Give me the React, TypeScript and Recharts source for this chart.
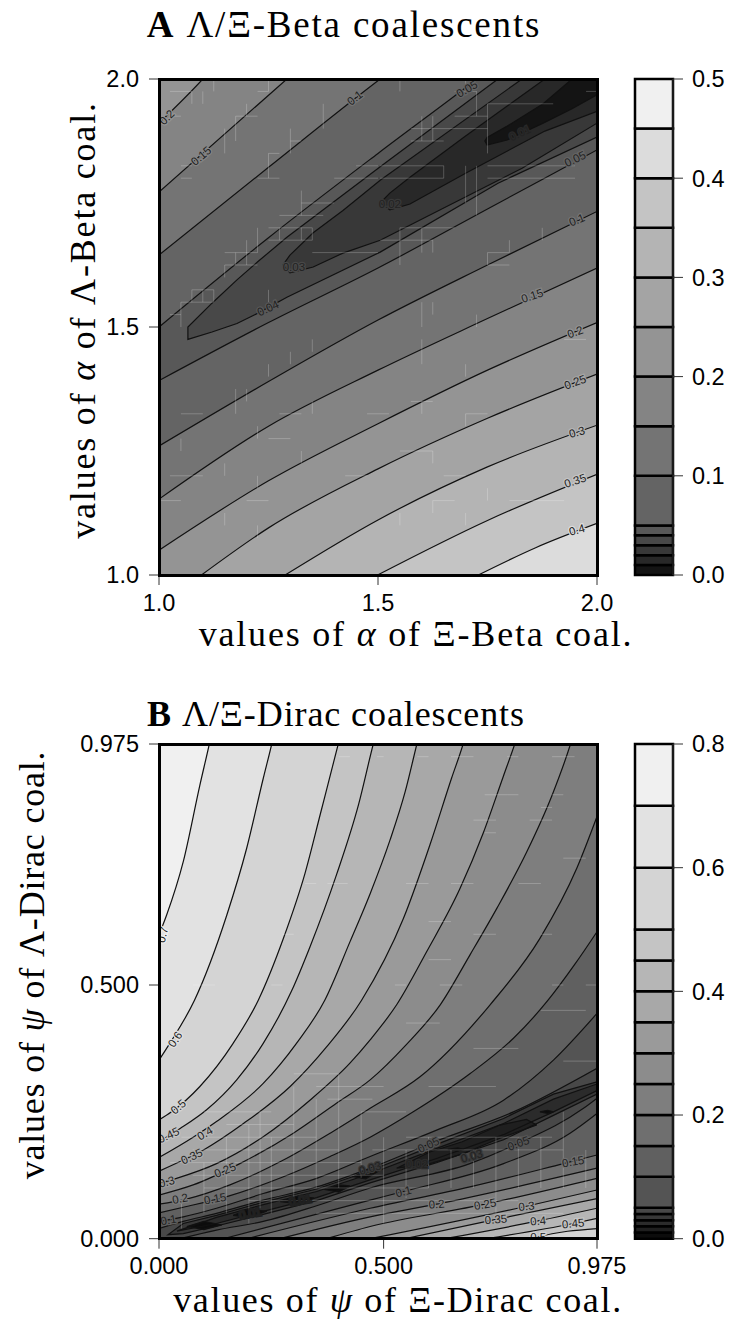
import { Area, Bar, ComposedChart, Line, Scatter, XAxis, YAxis } from "recharts";

type Pt = [number, number];

// ---- panel A: contour lines, [x, y]
// lines that run out of the frame get a last point past the edge, the clip cuts them
const A_TOP: Pt[] = [[1, 2], [2, 2]];
const A_020U: Pt[] = [[1, 1.911], [1.1, 2], [1.15, 2.05], [2, 2.05]];
const A_015U: Pt[] = [[1, 1.772], [1.292, 2], [1.34, 2.037], [2, 2.037]];
const A_010U: Pt[] = [[1, 1.645], [1.25, 1.822], [1.505, 2], [1.55, 2.03], [2, 2.03]];
const A_005U: Pt[] = [[1, 1.5], [1.25, 1.68], [1.5, 1.85], [1.726, 2], [1.77, 2.03], [2, 2.03]];
const A_005L: Pt[] = [[1, 1.392], [1.25, 1.509], [1.5, 1.619], [1.75, 1.738], [2, 1.857]];
const A_010L: Pt[] = [[1, 1.26], [1.25, 1.39], [1.5, 1.514], [1.75, 1.625], [2, 1.733]];
const A_015L: Pt[] = [[1, 1.153], [1.25, 1.3], [1.5, 1.413], [1.75, 1.517], [2, 1.619]];
const A_020L: Pt[] = [[1, 1.05], [1.25, 1.19], [1.5, 1.305], [1.75, 1.413], [2, 1.509]];
const A_025L: Pt[] = [[1.097, 1], [1.25, 1.095], [1.5, 1.214], [1.75, 1.316], [2, 1.405]];
const A_030L: Pt[] = [[1.288, 1], [1.5, 1.111], [1.75, 1.218], [2, 1.302]];
const A_035L: Pt[] = [[1.499, 1], [1.75, 1.11], [2, 1.203]];
const A_040L: Pt[] = [[1.729, 1], [1.86, 1.055], [2, 1.104]];

// closed lenses round the ridge: x, lower edge, upper edge
const A_LENS_04 = {
  x: [1.066, 1.121, 1.178, 1.226, 1.292, 1.505, 1.774, 2],
  lo: [1.475, 1.49, 1.507, 1.528, 1.56, 1.651, 1.79, 1.883],
  hi: [1.5, 1.548, 1.595, 1.632, 1.681, 1.823, 2, 2],
};
const A_LENS_03 = {
  x: [1.283, 1.299, 1.352, 1.42, 1.505, 1.829, 2],
  lo: [1.625, 1.609, 1.621, 1.649, 1.675, 1.82, 1.911],
  hi: [1.625, 1.645, 1.69, 1.735, 1.796, 2, 2],
};
const A_LENS_02 = {
  x: [1.505, 1.527, 1.573, 1.7, 1.881, 2],
  lo: [1.75, 1.736, 1.748, 1.81, 1.895, 1.935],
  hi: [1.75, 1.77, 1.802, 1.885, 2, 2],
};
const A_LENS_01 = {
  x: [1.744, 1.749, 1.795, 1.877, 1.943, 2],
  lo: [1.875, 1.867, 1.877, 1.911, 1.94, 1.968],
  hi: [1.875, 1.882, 1.905, 1.95, 2, 2],
};

const A_LEVELS = [0, 0.01, 0.02, 0.03, 0.04, 0.05, 0.1, 0.15, 0.2, 0.25, 0.3, 0.35, 0.4, 0.45, 0.5];
const A_TICKS_X = [1, 1.5, 2];
const A_TICKS_BAR = [0, 0.1, 0.2, 0.3, 0.4, 0.5];

const A_LABEL_TEXT = ["0.2", "0.15", "0.1", "0.05", "0.04", "0.03", "0.02", "0.01", "0.05", "0.1", "0.15", "0.2", "0.25", "0.3", "0.35", "0.4"];
const A_LABEL_X = [1.018, 1.096, 1.447, 1.703, 1.249, 1.308, 1.527, 1.824, 1.95, 1.954, 1.852, 1.95, 1.95, 1.954, 1.95, 1.954];
const A_LABEL_Y = [1.923, 1.845, 1.962, 1.98, 1.538, 1.621, 1.748, 1.891, 1.839, 1.716, 1.563, 1.49, 1.389, 1.288, 1.19, 1.091];

// pale seams of the filled grid cells: [x, y from, y to] and [y, x from, x to]
const A_SEAMS_V: number[][] = [
  [1.125, 2, 1.975], [1.25, 2, 1.975], [1.075, 1.975, 1.95], [1.1, 1.975, 1.95], [1.2, 1.95, 1.925], [1.175, 1.925, 1.875],
  [1.15, 1.9, 1.85], [1.25, 1.85, 1.8], [1.3, 1.9, 1.85], [1.375, 1.95, 1.9], [1.325, 1.775, 1.725], [1.275, 1.7, 1.675],
  [1.225, 1.7, 1.65], [1.2, 1.675, 1.625], [1.175, 1.65, 1.625], [1.15, 1.625, 1.6], [1.125, 1.575, 1.55], [1.1, 1.575, 1.55],
  [1.075, 1.575, 1.55], [1.05, 1.55, 1.5], [1.25, 1.575, 1.55], [1.325, 1.7, 1.675], [1.35, 1.7, 1.675],
  [1.55, 2, 1.975], [1.7, 2, 1.975], [1.725, 1.975, 1.925], [1.75, 1.95, 1.85], [1.6, 1.925, 1.875], [1.625, 1.925, 1.875],
  [1.65, 1.825, 1.8], [1.7, 1.825, 1.75], [1.725, 1.825, 1.725], [1.6, 1.7, 1.65], [1.625, 1.675, 1.65], [1.55, 1.7, 1.625],
  [1.8, 1.675, 1.65], [1.75, 1.65, 1.625], [1.875, 1.7, 1.675], [1.625, 1.55, 1.525], [1.6, 1.55, 1.5], [1.725, 1.525, 1.5],
  [1.25, 1.425, 1.4], [1.3, 1.45, 1.425], [1.35, 1.475, 1.45], [1.6, 1.475, 1.425], [1.7, 1.425, 1.4], [1.175, 1.375, 1.325],
  [1.2, 1.375, 1.35], [1.225, 1.3, 1.275], [1.35, 1.35, 1.325], [1.6, 1.35, 1.325], [1.7, 1.325, 1.3], [1.225, 1.2, 1.175],
  [1.15, 1.225, 1.2], [1.05, 1.275, 1.25], [1.325, 1.25, 1.225], [1.625, 1.25, 1.225], [1.625, 1.15, 1.125], [1.55, 1.125, 1.1],
  [1.225, 1.1, 1.075], [1.15, 1.125, 1.1], [1.7, 1.125, 1.1], [1.75, 1.175, 1.15],
];
const A_SEAMS_H: number[][] = [
  [1.975, 1.025, 1.075], [1.925, 1.025, 1.05], [1.975, 1.225, 1.25], [1.925, 1.175, 1.225], [1.875, 1.3, 1.325], [1.825, 1.05, 1.075],
  [1.8, 1.05, 1.075], [1.85, 1.25, 1.275], [1.8, 1.225, 1.275], [1.75, 1.325, 1.4], [1.825, 1.45, 1.5], [1.8, 1.4, 1.5],
  [1.725, 1.275, 1.375], [1.7, 1.25, 1.35], [1.675, 1.25, 1.35], [1.65, 1.15, 1.225], [1.625, 1.15, 1.225], [1.575, 1.075, 1.125],
  [1.55, 1.05, 1.125], [1.525, 1.025, 1.05], [1.65, 1.35, 1.5],
  [1.975, 1.675, 1.725], [1.95, 1.75, 1.9], [1.925, 1.675, 1.75], [1.9, 1.575, 1.75], [1.875, 1.575, 1.65], [1.825, 1.505, 1.65],
  [1.825, 1.75, 1.95], [1.8, 1.75, 1.95], [1.8, 1.505, 1.65], [1.7, 1.55, 1.675], [1.675, 1.505, 1.625], [1.65, 1.75, 1.8],
  [1.625, 1.75, 1.8], [1.975, 1.975, 2],
  [1.325, 1.05, 1.1], [1.325, 1.275, 1.325], [1.325, 1.475, 1.525], [1.325, 1.7, 1.75], [1.275, 1.25, 1.3], [1.25, 1.55, 1.625],
  [1.2, 1.025, 1.1], [1.2, 1.425, 1.475], [1.2, 1.65, 1.7], [1.15, 1, 1.05], [1.15, 1.2, 1.25], [1.15, 1.625, 1.675],
  [1.15, 1.8, 1.925], [1.35, 1.575, 1.625], [1.475, 1.925, 1.975],
];

// ---- panel B
const B_TOP: Pt[] = [[0, 0.975], [0.975, 0.975]];
const B_070: Pt[] = [[0, 0.599], [0.017, 0.638], [0.054, 0.743], [0.091, 0.894], [0.112, 0.975], [0.13, 1.05], [0.975, 1.05]];
const B_060: Pt[] = [[0, 0.352], [0.024, 0.385], [0.079, 0.47], [0.151, 0.638], [0.195, 0.769], [0.232, 0.907], [0.251, 0.975], [0.27, 1.05], [0.975, 1.05]];
const B_050: Pt[] = [[0, 0.234], [0.028, 0.25], [0.091, 0.3], [0.165, 0.385], [0.221, 0.47], [0.277, 0.592], [0.325, 0.72], [0.36, 0.84], [0.399, 0.975], [0.42, 1.05], [0.975, 1.05]];
const B_045: Pt[] = [[0, 0.191], [0.047, 0.217], [0.106, 0.254], [0.173, 0.313], [0.232, 0.385], [0.295, 0.488], [0.336, 0.575], [0.395, 0.717], [0.444, 0.855], [0.477, 0.975], [0.5, 1.05], [0.975, 1.05]];
const B_040: Pt[] = [[0, 0.16], [0.076, 0.2], [0.128, 0.231], [0.232, 0.306], [0.306, 0.385], [0.369, 0.47], [0.425, 0.585], [0.47, 0.68], [0.514, 0.785], [0.548, 0.881], [0.574, 0.975], [0.595, 1.05], [0.975, 1.05]];
const B_035: Pt[] = [[0, 0.133], [0.054, 0.155], [0.099, 0.175], [0.188, 0.227], [0.292, 0.3], [0.373, 0.378], [0.451, 0.47], [0.544, 0.631], [0.603, 0.776], [0.651, 0.907], [0.677, 0.975], [0.7, 1.05], [0.975, 1.05]];
const B_030: Pt[] = [[0, 0.109], [0.039, 0.119], [0.128, 0.148], [0.232, 0.201], [0.336, 0.273], [0.425, 0.346], [0.47, 0.392], [0.529, 0.461], [0.596, 0.566], [0.67, 0.69], [0.722, 0.8], [0.766, 0.91], [0.792, 0.975], [0.82, 1.05], [0.975, 1.05]];
const B_025: Pt[] = [[0, 0.086], [0.076, 0.106], [0.18, 0.148], [0.299, 0.208], [0.395, 0.267], [0.47, 0.313], [0.55, 0.382], [0.626, 0.461], [0.692, 0.559], [0.752, 0.651], [0.819, 0.763], [0.875, 0.874], [0.916, 0.975], [0.94, 1.05], [0.975, 1.05]];
const B_020: Pt[] = [[0, 0.068], [0.061, 0.078], [0.158, 0.106], [0.277, 0.155], [0.381, 0.208], [0.47, 0.257], [0.581, 0.319], [0.737, 0.461], [0.848, 0.592], [0.93, 0.73], [0.975, 0.832]];
const B_015: Pt[] = [[0, 0.051], [0.054, 0.062], [0.151, 0.083], [0.277, 0.122], [0.381, 0.162], [0.47, 0.2], [0.566, 0.25], [0.692, 0.325], [0.789, 0.395], [0.866, 0.47], [0.925, 0.54], [0.975, 0.605]];
const B_010: Pt[] = [[0, 0.034], [0.054, 0.043], [0.128, 0.06], [0.232, 0.089], [0.351, 0.119], [0.47, 0.162], [0.618, 0.214], [0.767, 0.273], [0.878, 0.352], [0.975, 0.444]];
const B_005U: Pt[] = [[0, 0.02], [0.054, 0.034], [0.128, 0.05], [0.232, 0.076], [0.351, 0.102], [0.47, 0.139], [0.622, 0.194], [0.789, 0.25], [0.975, 0.336]];
const B_005L: Pt[] = [[0.047, 0], [0.128, 0.017], [0.232, 0.034], [0.351, 0.065], [0.47, 0.1], [0.692, 0.148], [0.8, 0.188], [0.945, 0.257], [0.975, 0.277]];
const B_010L: Pt[] = [[0.143, 0], [0.47, 0.076], [0.544, 0.093], [0.767, 0.148], [0.915, 0.208], [0.975, 0.247]];
const B_015L: Pt[] = [[0.195, 0], [0.47, 0.06], [0.692, 0.102], [0.9, 0.148], [0.975, 0.165]];
const B_020L: Pt[] = [[0.269, 0], [0.47, 0.043], [0.618, 0.068], [0.975, 0.139]];
const B_025L: Pt[] = [[0.373, 0], [0.47, 0.024], [0.726, 0.068], [0.975, 0.119]];
const B_030L: Pt[] = [[0.47, 0], [0.818, 0.064], [0.975, 0.096]];
const B_035L: Pt[] = [[0.547, 0], [0.75, 0.038], [0.975, 0.079]];
const B_040L: Pt[] = [[0.636, 0], [0.844, 0.035], [0.975, 0.06]];
const B_045L: Pt[] = [[0.729, 0], [0.922, 0.03], [0.975, 0.04]];
const B_050L: Pt[] = [[0.833, 0], [0.844, 0.003], [0.975, 0.02]];

const B_LENS_04 = {
  x: [0.02, 0.054, 0.128, 0.232, 0.351, 0.47, 0.618, 0.767, 0.878, 0.975],
  lo: [0.008, 0.01, 0.025, 0.048, 0.075, 0.11, 0.15, 0.195, 0.243, 0.285],
  hi: [0.008, 0.03, 0.046, 0.072, 0.098, 0.134, 0.186, 0.237, 0.285, 0.309],
};
const B_LENS_03 = {
  x: [0.04, 0.128, 0.232, 0.351, 0.47, 0.618, 0.767, 0.878, 0.975],
  lo: [0.015, 0.03, 0.054, 0.081, 0.116, 0.158, 0.205, 0.25, 0.292],
  hi: [0.015, 0.042, 0.067, 0.093, 0.128, 0.178, 0.227, 0.275, 0.305],
};
const B_LENS_02 = {
  x: [0.529, 0.603, 0.675, 0.759, 0.818, 0.841],
  lo: [0.139, 0.148, 0.167, 0.198, 0.217, 0.224],
  hi: [0.139, 0.171, 0.191, 0.224, 0.235, 0.224],
};
// little dark islands along the ridge
const B_BLOBS = [
  { x: [0.062, 0.1, 0.14], lo: [0.024, 0.018, 0.027], hi: [0.024, 0.034, 0.027] },
  { x: [0.165, 0.2, 0.24], lo: [0.046, 0.042, 0.054], hi: [0.046, 0.058, 0.054] },
  { x: [0.27, 0.31, 0.345], lo: [0.073, 0.069, 0.08], hi: [0.073, 0.084, 0.08] },
  { x: [0.37, 0.4, 0.425], lo: [0.097, 0.092, 0.104], hi: [0.097, 0.106, 0.104] },
  { x: [0.433, 0.46, 0.49], lo: [0.122, 0.118, 0.134], hi: [0.122, 0.135, 0.134] },
  { x: [0.643, 0.665, 0.678], lo: [0.176, 0.173, 0.176], hi: [0.176, 0.179, 0.176] },
  { x: [0.848, 0.865, 0.878], lo: [0.25, 0.247, 0.25], hi: [0.25, 0.253, 0.25] },
];

const B_LEVELS = [0, 0.01, 0.02, 0.03, 0.04, 0.05, 0.1, 0.15, 0.2, 0.25, 0.3, 0.35, 0.4, 0.45, 0.5, 0.6, 0.7, 0.8];
const B_TICKS_X = [0, 0.5, 0.975];
const B_TICKS_BAR = [0, 0.2, 0.4, 0.6, 0.8];

const B_LABEL_TEXT = ["0.7", "0.6", "0.5", "0.45", "0.4", "0.35", "0.3", "0.25", "0.2", "0.15", "0.1", "0.01", "0.01", "0.03", "0.02", "0.05", "0.03", "0.05", "0.1", "0.15", "0.2", "0.25", "0.3", "0.35", "0.4", "0.45", "0.5"];
const B_LABEL_X = [0.008, 0.036, 0.043, 0.021, 0.102, 0.073, 0.017, 0.147, 0.047, 0.125, 0.021, 0.203, 0.314, 0.47, 0.574, 0.6, 0.696, 0.8, 0.544, 0.922, 0.618, 0.726, 0.818, 0.75, 0.844, 0.922, 0.844];
const B_LABEL_Y = [0.599, 0.393, 0.26, 0.204, 0.208, 0.162, 0.112, 0.135, 0.079, 0.079, 0.037, 0.05, 0.076, 0.139, 0.148, 0.185, 0.163, 0.188, 0.093, 0.152, 0.068, 0.068, 0.064, 0.038, 0.035, 0.03, 0.003];

const B_SEAMS_V: number[][] = [
  [0.15, 0.05, 0.2], [0.2, 0.03, 0.225], [0.225, 0.06, 0.25], [0.25, 0.05, 0.2], [0.3, 0.075, 0.3], [0.35, 0.1, 0.275],
  [0.4, 0.1, 0.325], [0.45, 0.12, 0.25], [0.5, 0.03, 0.2], [0.55, 0.08, 0.175], [0.6, 0.1, 0.2], [0.65, 0.1, 0.175],
  [0.7, 0.1, 0.175], [0.75, 0.05, 0.2], [0.8, 0.1, 0.2], [0.85, 0.1, 0.2], [0.9, 0.1, 0.25], [0.95, 0.1, 0.175],
  [0.1, 0.05, 0.15], [0.05, 0.02, 0.075],
];
const B_SEAMS_H: number[][] = [
  [0.25, 0.1, 0.25], [0.225, 0.15, 0.3], [0.2, 0.05, 0.35], [0.175, 0.075, 0.4], [0.15, 0.025, 0.45], [0.125, 0.075, 0.5],
  [0.1, 0.1, 0.6], [0.075, 0.2, 0.8], [0.05, 0.35, 0.9], [0.325, 0.3, 0.4], [0.3, 0.35, 0.5], [0.275, 0.375, 0.475],
  [0.25, 0.45, 0.55], [0.2, 0.55, 0.875], [0.175, 0.475, 0.9], [0.3, 0.6, 0.75], [0.375, 0.7, 0.8], [0.35, 0.9, 0.975],
  [0.45, 0.85, 0.95], [0.425, 0.55, 0.625], [0.55, 0.6, 0.65], [0.5, 0.95, 0.975],
  [0.95, 0.485, 0.5], [0.95, 0.575, 0.6], [0.95, 0.65, 0.7], [0.95, 0.775, 0.8], [0.95, 0.875, 0.925], [0.875, 0.775, 0.8],
  [0.875, 0.875, 0.9], [0.875, 0.725, 0.775], [0.85, 0.85, 0.875], [0.825, 0.7, 0.75], [0.825, 0.825, 0.875], [0.8, 0.725, 0.75],
  [0.7, 0.55, 0.6], [0.7, 0.65, 0.7], [0.7, 0.8, 0.85], [0.75, 0.9, 0.95], [0.625, 0.6, 0.65], [0.6, 0.7, 0.75],
  [0.6, 0.85, 0.875], [0.5, 0.525, 0.55], [0.5, 0.625, 0.675], [0.5, 0.875, 0.9], [0.95, 0.4, 0.425], [0.7, 0.325, 0.35],
  [0.7, 0.375, 0.42], [0.6, 0.275, 0.3], [0.5, 0.25, 0.275], [0.5, 0.075, 0.125],
];

// ---- looks
const A_FILLS = ["#141414", "#282828", "#383838", "#484848", "#585858", "#646464", "#747474", "#848484", "#949494", "#a4a4a4", "#b4b4b4", "#c4c4c4", "#dcdcdc", "#f0f0f0"];
const B_FILLS = ["#0c0c0c", "#1f1f1f", "#2b2b2b", "#383838", "#484848", "#545454", "#606060", "#6f6f6f", "#7e7e7e", "#8c8c8c", "#9a9a9a", "#a8a8a8", "#b6b6b6", "#c4c4c4", "#d4d4d4", "#e2e2e2", "#f0f0f0"];
const A_ANGLES = [-45, -40, -38, -30, -25, 0, 0, -25, -25, -22, -18, -20, -20, -15, -18, -15];
const B_ANGLES = [-75, -55, -40, -25, -30, -25, -15, -22, -10, -10, -10, -10, -10, -15, 0, -25, -15, -20, -15, -10, -5, -10, -5, -5, -5, -5, 0];

const SANS = "'Liberation Sans', Arial, sans-serif";
const SERIF = "'Liberation Serif', serif";
const LINE = "#111111";

const rows = (pts: Pt[]) => pts.map(([x, y]) => ({ x, y }));

function fillBelow(pts: Pt[], fill: string, base: number, key: string, smooth = true, drawLine = true) {
  const type = smooth ? "monotone" : "linear";
  return [
    <Area
      key={key + "-a"}
      data={rows(pts)}
      dataKey={(r: any) => [base, r.y]}
      type={type}
      fill={fill}
      fillOpacity={1}
      stroke="none"
      dot={false}
      activeDot={false}
      isAnimationActive={false}
    />,
    drawLine ? contour(pts, key + "-l", smooth) : null,
  ];
}

function contour(pts: Pt[], key: string, smooth = true) {
  return (
    <Line
      key={key}
      data={rows(pts)}
      dataKey="y"
      type={smooth ? "monotone" : "linear"}
      stroke={LINE}
      strokeWidth={1.2}
      dot={false}
      activeDot={false}
      isAnimationActive={false}
    />
  );
}

function lens(l: { x: number[]; lo: number[]; hi: number[] }, fill: string, key: string) {
  const band = l.x.map((x, i) => ({ x, lo: l.lo[i], hi: l.hi[i] }));
  const outline: Pt[] = [
    ...l.x.map((x, i) => [x, l.lo[i]] as Pt).reverse(),
    ...l.x.map((x, i) => [x, l.hi[i]] as Pt),
  ];
  return [
    <Area
      key={key + "-a"}
      data={band}
      dataKey={(r: any) => [r.lo, r.hi]}
      type="linear"
      fill={fill}
      fillOpacity={1}
      stroke="none"
      dot={false}
      activeDot={false}
      isAnimationActive={false}
    />,
    contour(outline, key + "-l", false),
  ];
}

// all seams as one broken line, a null y lifts the pen
function seams(v: number[][], h: number[][]) {
  const data: { x: number; y: number | null }[] = [];
  v.forEach(([x, y0, y1]) => data.push({ x, y: y0 }, { x, y: y1 }, { x, y: null }));
  h.forEach(([y, x0, x1]) => data.push({ x: x0, y }, { x: x1, y }, { x: x1, y: null }));
  return (
    <Line
      key="seams"
      data={data}
      dataKey="y"
      type="linear"
      stroke="#ffffff"
      strokeOpacity={0.22}
      strokeWidth={1}
      connectNulls={false}
      dot={false}
      activeDot={false}
      isAnimationActive={false}
    />
  );
}

// contour label, the halo opens the gap in the line
function ContourLabel(props: any) {
  const { cx, cy, payload } = props;
  return (
    <text
      x={cx}
      y={cy}
      transform={`rotate(${payload.angle} ${cx} ${cy})`}
      textAnchor="middle"
      dominantBaseline="central"
      fontFamily={SANS}
      fontSize={11.5}
      fill="#222222"
      stroke={payload.halo}
      strokeWidth={2.5}
      paintOrder="stroke"
    >
      {payload.text}
    </text>
  );
}

function fillFor(levels: number[], fills: string[], v: number) {
  let i = levels.findIndex((l) => Math.abs(l - v) < 1e-9);
  if (i < 0 || i >= fills.length) i = fills.length - 1;
  return fills[i];
}

function labelRows(text: string[], xs: number[], ys: number[], angles: number[], levels: number[], fills: string[]) {
  return text.map((t, i) => ({
    text: t,
    x: xs[i],
    y: ys[i],
    angle: angles[i],
    halo: fillFor(levels, fills, parseFloat(t)),
  }));
}

const axisTick = { fontFamily: SANS, fontSize: 23.5, fill: "#000000" };

function Panel({ top, height, plotTop, plotBottom, xDomain, yDomain, xTicks, digits, labels, children }: any) {
  const left = 159;
  const right = 597;
  return (
    <div style={{ position: "absolute", left: 0, top, width: 729, height }}>
      <ComposedChart
        width={729}
        height={height}
        margin={{ top: plotTop - top, right: 729 - right, bottom: height - (plotBottom - top) - 40, left: left - 60 }}
      >
        <XAxis
          type="number"
          dataKey="x"
          domain={xDomain}
          ticks={xTicks}
          interval={0}
          allowDataOverflow
          height={40}
          tickSize={10}
          tickMargin={9}
          stroke="#333333"
          tick={axisTick}
          tickFormatter={(v: number) => v.toFixed(digits)}
        />
        <YAxis
          type="number"
          dataKey="y"
          domain={yDomain}
          ticks={xTicks}
          interval={0}
          allowDataOverflow
          width={60}
          tickSize={10}
          tickMargin={10}
          stroke="#333333"
          tick={axisTick}
          tickFormatter={(v: number) => v.toFixed(digits)}
        />
        {children}
        <Scatter data={labels} dataKey="y" shape={ContourLabel} isAnimationActive={false} />
      </ComposedChart>
      <div
        style={{
          position: "absolute",
          boxSizing: "border-box",
          left: left - 1.5,
          top: plotTop - top - 1.5,
          width: right - left + 3,
          height: plotBottom - plotTop + 3,
          border: "3px solid #000",
          pointerEvents: "none",
        }}
      />
    </div>
  );
}

function ColorBar({ top, height, plotTop, plotBottom, levels, fills, ticks }: any) {
  const row: Record<string, any> = { name: "key" };
  levels.slice(1).forEach((l: number, i: number) => {
    row["b" + i] = l - levels[i];
  });
  const max = levels[levels.length - 1];
  return (
    <div style={{ position: "absolute", left: 625, top, width: 104, height }}>
      <ComposedChart
        width={104}
        height={height}
        data={[row]}
        barCategoryGap={0}
        margin={{ top: plotTop - top, right: 0, bottom: height - (plotBottom - top), left: 10 }}
      >
        <XAxis dataKey="name" hide />
        <YAxis
          orientation="right"
          type="number"
          domain={[0, max]}
          ticks={ticks}
          interval={0}
          width={56}
          tickSize={10}
          tickMargin={9}
          stroke="#333333"
          tick={axisTick}
          tickFormatter={(v: number) => v.toFixed(1)}
        />
        {fills.map((f: string, i: number) => (
          <Bar key={i} dataKey={"b" + i} stackId="k" fill={f} stroke="#000" strokeWidth={2.5} isAnimationActive={false} />
        ))}
      </ComposedChart>
    </div>
  );
}

function Txt({ x, y, size, rotate, spacing, children }: any) {
  return (
    <div
      style={{
        position: "absolute",
        left: x,
        top: y,
        transform: `translate(-50%, -50%)${rotate ? ` rotate(${rotate}deg)` : ""}`,
        fontFamily: SERIF,
        fontSize: size,
        letterSpacing: spacing,
        whiteSpace: "nowrap",
        color: "#000",
        lineHeight: 1,
      }}
    >
      {children}
    </div>
  );
}

export default function App() {
  const fa = A_FILLS;
  const fb = B_FILLS;
  const panelA = [
    ...fillBelow(A_TOP, fa[8], 1, "top", false, false),
    ...fillBelow(A_020U, fa[7], 1, "u20"),
    ...fillBelow(A_015U, fa[6], 1, "u15"),
    ...fillBelow(A_010U, fa[5], 1, "u10"),
    ...fillBelow(A_005U, fa[4], 1, "u05"),
    ...fillBelow(A_005L, fa[5], 1, "l05"),
    ...fillBelow(A_010L, fa[6], 1, "l10"),
    ...fillBelow(A_015L, fa[7], 1, "l15"),
    ...fillBelow(A_020L, fa[8], 1, "l20"),
    ...fillBelow(A_025L, fa[9], 1, "l25"),
    ...fillBelow(A_030L, fa[10], 1, "l30"),
    ...fillBelow(A_035L, fa[11], 1, "l35"),
    ...fillBelow(A_040L, fa[12], 1, "l40"),
    ...lens(A_LENS_04, fa[3], "n04"),
    ...lens(A_LENS_03, fa[2], "n03"),
    ...lens(A_LENS_02, fa[1], "n02"),
    ...lens(A_LENS_01, fa[0], "n01"),
    seams(A_SEAMS_V, A_SEAMS_H),
  ];
  const panelB = [
    ...fillBelow(B_TOP, fb[16], 0, "top", false, false),
    ...fillBelow(B_070, fb[15], 0, "u70"),
    ...fillBelow(B_060, fb[14], 0, "u60"),
    ...fillBelow(B_050, fb[13], 0, "u50"),
    ...fillBelow(B_045, fb[12], 0, "u45"),
    ...fillBelow(B_040, fb[11], 0, "u40"),
    ...fillBelow(B_035, fb[10], 0, "u35"),
    ...fillBelow(B_030, fb[9], 0, "u30"),
    ...fillBelow(B_025, fb[8], 0, "u25"),
    ...fillBelow(B_020, fb[7], 0, "u20"),
    ...fillBelow(B_015, fb[6], 0, "u15"),
    ...fillBelow(B_010, fb[5], 0, "u10"),
    ...fillBelow(B_005U, fb[4], 0, "u05"),
    ...fillBelow(B_005L, fb[5], 0, "l05"),
    ...fillBelow(B_010L, fb[6], 0, "l10"),
    ...fillBelow(B_015L, fb[7], 0, "l15"),
    ...fillBelow(B_020L, fb[8], 0, "l20"),
    ...fillBelow(B_025L, fb[9], 0, "l25"),
    ...fillBelow(B_030L, fb[10], 0, "l30"),
    ...fillBelow(B_035L, fb[11], 0, "l35"),
    ...fillBelow(B_040L, fb[12], 0, "l40"),
    ...fillBelow(B_045L, fb[13], 0, "l45"),
    ...fillBelow(B_050L, fb[14], 0, "l50"),
    ...lens(B_LENS_04, fb[3], "n04"),
    ...lens(B_LENS_03, fb[2], "n03"),
    ...lens(B_LENS_02, fb[1], "n02"),
    ...B_BLOBS.flatMap((b, i) => lens(b, fb[0], "b" + i)),
    seams(B_SEAMS_V, B_SEAMS_H),
  ];

  return (
    <div style={{ position: "absolute", left: 0, top: 0, width: 729, height: 1319, background: "#fff", overflow: "hidden" }}>
      <Txt x={344} y={24} size={37} spacing={1.8}>
        <b>A</b> Λ/Ξ-Beta coalescents
      </Txt>
      <Panel
        top={0}
        height={660}
        plotTop={79}
        plotBottom={575}
        xDomain={[1, 2]}
        yDomain={[1, 2]}
        xTicks={A_TICKS_X}
        digits={1}
        labels={labelRows(A_LABEL_TEXT, A_LABEL_X, A_LABEL_Y, A_ANGLES, A_LEVELS, A_FILLS)}
      >
        {panelA}
      </Panel>
      <ColorBar top={0} height={660} plotTop={79} plotBottom={575} levels={A_LEVELS} fills={A_FILLS} ticks={A_TICKS_BAR} />
      <Txt x={416} y={634} size={36} spacing={1.8}>
        values of <i>α</i> of Ξ-Beta coal.
      </Txt>
      <Txt x={83} y={320} size={36} spacing={1.8} rotate={-90}>
        values of <i>α</i> of Λ-Beta coal.
      </Txt>

      <Txt x={336} y={714} size={36} spacing={0.9}>
        <b>B</b> Λ/Ξ-Dirac coalescents
      </Txt>
      <Panel
        top={660}
        height={659}
        plotTop={744}
        plotBottom={1238.7}
        xDomain={[0, 0.975]}
        yDomain={[0, 0.975]}
        xTicks={B_TICKS_X}
        digits={3}
        labels={labelRows(B_LABEL_TEXT, B_LABEL_X, B_LABEL_Y, B_ANGLES, B_LEVELS, B_FILLS)}
      >
        {panelB}
      </Panel>
      <ColorBar top={660} height={659} plotTop={744} plotBottom={1238.7} levels={B_LEVELS} fills={B_FILLS} ticks={B_TICKS_BAR} />
      <Txt x={398} y={1300} size={36} spacing={1.65}>
        values of <i>ψ</i> of Ξ-Dirac coal.
      </Txt>
      <Txt x={32} y={965} size={36} spacing={0.8} rotate={-90}>
        values of <i>ψ</i> of Λ-Dirac coal.
      </Txt>
    </div>
  );
}
